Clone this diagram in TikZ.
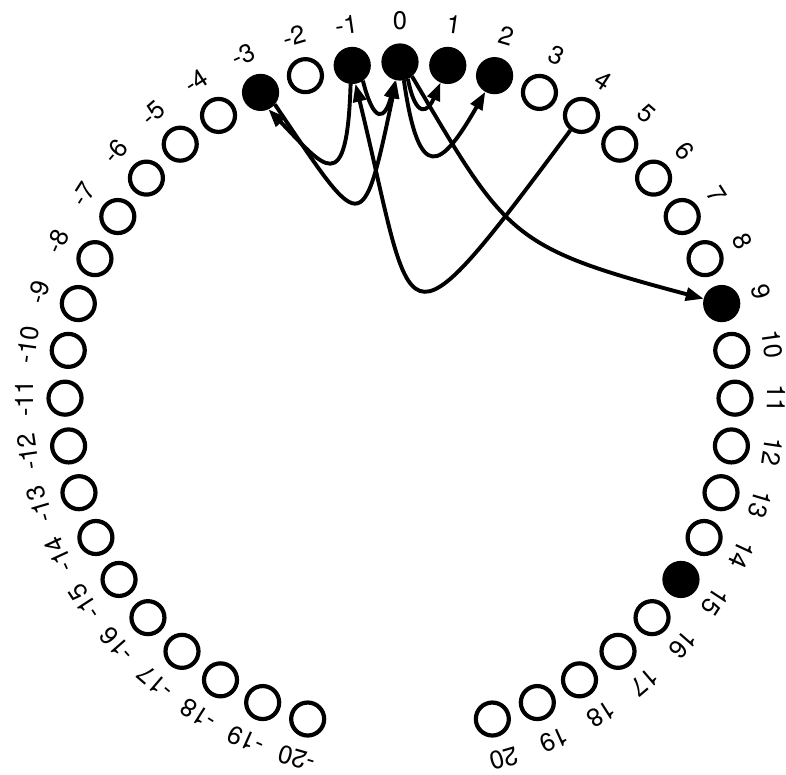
\documentclass[tikz,border=0pt]{standalone}
\usepackage{fontspec}
\setmainfont{TeX Gyre Heros}
\usetikzlibrary{arrows.meta}
\begin{document}
\begin{tikzpicture}[x=1pt,y=-1pt,
  dot/.style={circle,draw=black,line width=4.2pt,minimum size=33pt,inner sep=0pt},
  fdot/.style={dot,fill=black},
  lbl/.style={font=\fontsize{25.5}{26}\selectfont,inner sep=0pt},
  arr/.style={line width=3.9pt,-{Triangle[length=18pt,width=13pt]}}
]
\useasboundingbox (0,0) rectangle (786,775);
\foreach \n in {-20,-19,-18,-17,-16,-15,-14,-13,-12,-11,-10,-9,-8,-7,-6,-5,-4,-2,3,4,5,6,7,8,10,11,12,13,14,16,17,18,19,20}{
  \pgfmathsetmacro\a{90-8.2*\n}
  \node[dot] (n\n) at ({400+335*cos(\a)},{397-335*sin(\a)}) {};
}
\foreach \n in {-3,-1,0,1,2,9,15}{
  \pgfmathsetmacro\a{90-8.2*\n}
  \node[fdot] (n\n) at ({400+335*cos(\a)},{397-335*sin(\a)}) {};
}
\foreach \n in {-20,...,20}{
  \pgfmathsetmacro\a{90-8.2*\n}
  \node[lbl,rotate=\a-90] (t\n) at ({400+376*cos(\a)},{397-376*sin(\a)}) {\n};
}
\draw[arr] (n4) .. controls (394,367) and (416,332) .. (n-1.-80);
\draw[arr] (n-1.-95) .. controls (347,201) and (324,167) .. (n-3.-65);
\draw[arr] (n-3.-40) .. controls (362,233) and (362,243) .. (n0);
\draw[arr] (n-1.-55) .. controls (374,125) and (385,120) .. (n0);
\draw[arr] (n0.-65) .. controls (416,120) and (428,112) .. (n1);
\draw[arr] (n0.-78) .. controls (419,186) and (441,169) .. (n2);
\draw[arr] (n0.-50) .. controls (507,237) and (509,247) .. (n9);
\end{tikzpicture}
\end{document}
